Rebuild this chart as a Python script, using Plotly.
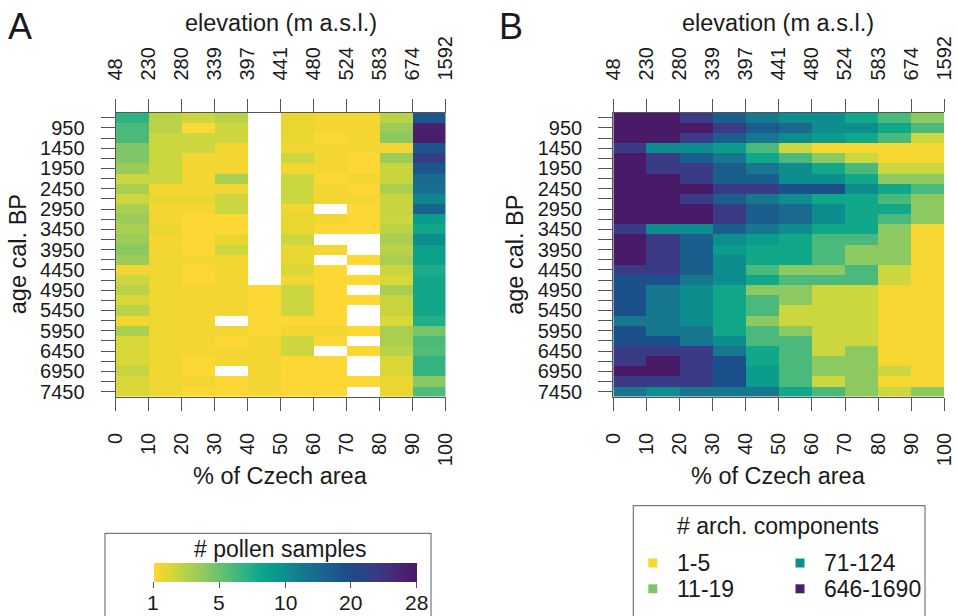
import numpy as np
import plotly.graph_objects as go

# ---------------- data ----------------
AREA_TICKS = [0, 10, 20, 30, 40, 50, 60, 70, 80, 90, 100]
AREA_CENTERS = [5, 15, 25, 35, 45, 55, 65, 75, 85, 95]
ELEVATION_LABELS = ["48", "230", "280", "339", "397", "441", "480", "524", "583", "674", "1592"]
AGE_CENTERS = list(range(700, 7451, 250))          # 28 bins of 250 years
AGE_LABELS = [str(a) if (a - 950) % 500 == 0 else "" for a in AGE_CENTERS]

N = None
# number of pollen samples per (age bin, area decile)
POLLEN = [
    [7.0, 2.8, 2.3, 2.8, N, 1.6, 1.3, 1.3, 2.8, 18],
    [6.0, 2.8, 1.0, 2.3, N, 1.6, 1.3, 1.3, 3.7, 26.5],
    [6.0, 2.3, 2.3, 2.3, N, 1.6, 1.0, 1.3, 4.2, 27],
    [4.5, 2.3, 2.3, 1.3, N, 1.3, 1.3, 1.3, 1.3, 18],
    [4.5, 2.3, 1.3, 1.3, N, 2.3, 1.3, 1.0, 3.7, 23],
    [3.7, 2.3, 1.3, 1.3, N, 1.3, 1.3, 1.0, 2.4, 18],
    [2.3, 2.3, 1.3, 3.2, N, 2.3, 1.0, 1.3, 2.4, 15],
    [3.2, 1.3, 1.3, 1.3, N, 2.3, 1.3, 1.0, 3.2, 14],
    [2.3, 1.6, 1.6, 2.3, N, 2.3, 1.3, 1.3, 2.4, 11],
    [3.2, 1.3, 1.3, 2.3, N, 1.3, N, 1.0, 2.4, 16],
    [3.7, 1.3, 1.0, 1.0, N, 1.6, 1.3, 1.0, 2.3, 9],
    [3.2, 1.6, 1.0, 1.0, N, 1.6, 1.0, 1.0, 2.8, 8],
    [3.7, 1.3, 1.0, 1.6, N, 2.3, N, N, 3.2, 10],
    [4.2, 1.3, 1.0, 2.3, N, 1.6, 1.3, N, 2.8, 8.6],
    [3.7, 1.4, 1.3, 1.3, N, 1.6, N, 1.0, 3.2, 8.6],
    [1.3, 1.4, 1.0, 1.3, N, 2.0, 1.0, N, 2.4, 7.6],
    [2.3, 1.4, 1.0, 1.3, N, 1.3, 1.0, 1.0, 2.0, 8],
    [2.8, 1.4, 1.3, 1.3, 1.0, 2.3, 1.0, N, 3.2, 8],
    [2.0, 1.4, 1.3, 1.3, 1.0, 2.3, 1.0, 1.0, 2.4, 8],
    [2.8, 1.4, 1.3, 1.3, 1.0, 2.3, 1.0, N, 2.4, 8],
    [1.3, 1.4, 1.3, N, 1.0, 1.0, 1.0, N, 2.0, 7.4],
    [3.2, 1.4, 1.3, 1.3, 1.0, 1.3, 1.3, 1.0, 3.2, 4.7],
    [2.0, 1.4, 1.3, 1.0, 1.3, 2.3, 1.0, N, 3.2, 6],
    [2.0, 1.4, 1.3, 1.3, 1.3, 2.3, N, 1.0, 2.8, 5.8],
    [2.0, 1.4, 1.0, 1.3, 1.3, 1.0, 1.0, N, 2.0, 6.8],
    [2.5, 1.4, 1.0, N, 1.3, 1.0, 1.0, N, 2.0, 6.8],
    [2.0, 1.4, 1.3, 1.0, 1.3, 1.0, 1.0, 1.0, 1.6, 4.2],
    [2.0, 1.4, 1.0, 1.0, 1.3, 1.0, 1.0, N, 1.6, 5.8],
]

# number of archaeological components per (age bin, area decile)
ARCH = [
    [1500, 1500, 600, 239, 143, 100, 100, 51, 26, 13],
    [1500, 1500, 1500, 600, 239, 185, 100, 100, 51, 26],
    [1500, 1500, 600, 239, 143, 100, 71, 51, 26, 7],
    [600, 100, 100, 71, 26, 7, 3, 3, 3, 3],
    [1500, 600, 239, 143, 51, 26, 13, 7, 3, 3],
    [1500, 600, 600, 239, 143, 100, 51, 26, 7, 7],
    [1500, 1500, 600, 239, 239, 100, 100, 51, 13, 13],
    [1500, 1500, 1500, 600, 600, 308, 308, 100, 51, 26],
    [1500, 1500, 600, 239, 143, 100, 51, 51, 26, 13],
    [1500, 1500, 1500, 600, 239, 185, 100, 51, 51, 13],
    [1500, 1500, 1500, 600, 239, 185, 100, 51, 26, 13],
    [600, 100, 100, 239, 143, 100, 51, 51, 13, 3],
    [1500, 600, 239, 100, 71, 51, 26, 26, 13, 3],
    [1500, 600, 239, 71, 51, 51, 26, 13, 13, 3],
    [1500, 600, 239, 100, 51, 51, 26, 13, 13, 3],
    [600, 600, 239, 100, 26, 13, 13, 26, 7, 3],
    [308, 308, 143, 100, 51, 26, 26, 26, 7, 3],
    [308, 143, 100, 51, 13, 13, 7, 7, 3, 3],
    [308, 143, 100, 51, 26, 13, 7, 7, 3, 3],
    [308, 143, 100, 51, 26, 7, 7, 7, 3, 3],
    [143, 143, 100, 51, 13, 7, 7, 7, 3, 3],
    [308, 143, 143, 51, 26, 13, 7, 7, 3, 3],
    [308, 308, 143, 100, 26, 26, 7, 7, 3, 3],
    [600, 600, 600, 143, 51, 26, 7, 13, 3, 3],
    [600, 1500, 600, 308, 51, 26, 13, 13, 3, 3],
    [1500, 1500, 600, 308, 71, 26, 13, 13, 7, 3],
    [600, 600, 600, 308, 71, 26, 7, 13, 3, 3],
    [143, 100, 143, 143, 143, 51, 26, 13, 7, 13],
]

POLLEN_BREAKS = [1, 5, 10, 20, 28]
ARCH_BREAKS = [1, 5, 15, 100, 1000, 1690]
ARCH_LEGEND_LABELS = ["1-5", "11-19", "71-124", "646-1690"]
ARCH_LEGEND_VALUES = [3, 15, 95, 1200]

# ---------------- styling ----------------
W, H = 957, 616
FONT = "Liberation Sans, Arial, sans-serif"
TXT = "#1a1a1a"
AX = "#555555"

CS = [[0.00, "#FDD835"], [0.03, "#EDD52F"], [0.06, "#DCD738"], [0.09, "#C6D540"],
      [0.13, "#AED04E"], [0.17, "#9BCB5A"], [0.21, "#84C765"], [0.26, "#62BF74"],
      [0.31, "#45B87C"], [0.36, "#28B085"], [0.41, "#0CA58A"], [0.46, "#0A9A8C"],
      [0.51, "#0E8A8E"], [0.57, "#16778F"], [0.62, "#1A6A90"], [0.67, "#1A5E8E"],
      [0.72, "#1B508C"], [0.78, "#264688"], [0.85, "#3A3A86"], [0.92, "#452877"],
      [1.00, "#4A1866"]]


def cs_color(p):
    for (p0, c0), (p1, c1) in zip(CS[:-1], CS[1:]):
        if p <= p1:
            t = 0 if p1 == p0 else (p - p0) / (p1 - p0)
            a = [int(c0[i:i + 2], 16) for i in (1, 3, 5)]
            b = [int(c1[i:i + 2], 16) for i in (1, 3, 5)]
            return "rgb(%d,%d,%d)" % tuple(round(a[k] + t * (b[k] - a[k])) for k in range(3))
    return CS[-1][1]


def pollen_pos(v):
    return np.interp(v, POLLEN_BREAKS, np.linspace(0, 1, len(POLLEN_BREAKS)))


def arch_pos(v):
    return np.interp(np.log10(v), np.log10(ARCH_BREAKS), [0, 0.02, 0.22, 0.5, 0.95, 1.0])


zA = [[None if v is None else float(pollen_pos(v)) for v in row] for row in POLLEN]
zB = [[None if v is None else float(arch_pos(v)) for v in row] for row in ARCH]


def px(x):
    return x / W


def py(y):
    return 1 - y / H


CB_X0, CB_LEN = 153.3, 263.4

fig = go.Figure()

fig.add_trace(go.Heatmap(
    x=AREA_CENTERS, y=AGE_CENTERS, z=zA, customdata=POLLEN,
    colorscale=CS, zmin=0, zmax=1, xaxis="x", yaxis="y",
    hovertemplate="%{customdata}<extra></extra>",
    colorbar=dict(orientation="h", x=px(CB_X0 + CB_LEN / 2), xanchor="center",
                  y=py(562.7), yanchor="top",
                  len=CB_LEN, lenmode="pixels", thickness=19, thicknessmode="pixels",
                  xpad=0, ypad=0, outlinewidth=0,
                  tickvals=[float(pollen_pos(b)) for b in POLLEN_BREAKS],
                  showticklabels=False,
                  ticks="outside", ticklen=6, tickcolor=AX, tickwidth=1.2),
))
fig.add_trace(go.Heatmap(
    x=AREA_CENTERS, y=AGE_CENTERS, z=zB, customdata=ARCH,
    colorscale=CS, zmin=0, zmax=1, xaxis="x2", yaxis="y2", showscale=False,
    hovertemplate="%{customdata}<extra></extra>",
))
# invisible traces so that the top (elevation) axes are drawn
for xa, ya in (("x3", "y"), ("x4", "y2")):
    fig.add_trace(go.Scatter(x=[AREA_TICKS[0], AREA_TICKS[-1]], y=[AGE_CENTERS[0]] * 2,
                             xaxis=xa, yaxis=ya, mode="markers", marker=dict(opacity=0),
                             hoverinfo="skip", showlegend=False))

common_x = dict(range=[0, 100], showgrid=False, zeroline=False, showline=True,
                linecolor=AX, linewidth=1.2, ticks="outside", ticklen=13, tickcolor=AX,
                tickwidth=1.2, tickangle=-90, tickvals=AREA_TICKS, automargin=False,
                tickfont=dict(size=20, color=TXT, family=FONT))
common_y = dict(range=[AGE_CENTERS[-1] + 125, AGE_CENTERS[0] - 125], showgrid=False,
                zeroline=False, showline=True, linecolor=AX, linewidth=1.2,
                ticks="outside", ticklen=14, tickcolor=AX, tickwidth=1.2, automargin=False,
                tickvals=AGE_CENTERS, ticktext=AGE_LABELS, ticklabelstandoff=12,
                tickfont=dict(size=20, color=TXT, family=FONT))

domA = [px(115.7), px(445.7)]
domB = [px(613.3), px(944.3)]
domY = [py(396.7), py(112.7)]

fig.update_layout(
    width=W, height=H, margin=dict(l=0, r=0, t=0, b=0, pad=0, autoexpand=False),
    paper_bgcolor="white", plot_bgcolor="white", showlegend=False,
    font=dict(family=FONT, color=TXT),
    xaxis=dict(common_x, domain=domA, anchor="y", side="bottom",
               ticktext=[str(t) for t in AREA_TICKS], ticklabelstandoff=14),
    xaxis2=dict(common_x, domain=domB, anchor="y2", side="bottom",
                ticktext=[str(t) for t in AREA_TICKS], ticklabelstandoff=14),
    xaxis3=dict(common_x, overlaying="x", anchor="y", side="top",
                ticktext=ELEVATION_LABELS, ticklabelstandoff=14),
    xaxis4=dict(common_x, overlaying="x2", anchor="y2", side="top",
                ticktext=ELEVATION_LABELS, ticklabelstandoff=14),
    yaxis=dict(common_y, domain=domY, anchor="x"),
    yaxis2=dict(common_y, domain=domY, anchor="x2"),
)

ann = []


def text(x, y, s, size, xanchor="center", angle=0, yanchor="middle"):
    ann.append(dict(x=px(x), y=py(y), xref="paper", yref="paper", text=s, showarrow=False,
                    xanchor=xanchor, yanchor=yanchor, textangle=angle,
                    font=dict(size=size, color=TXT, family=FONT)))


for off, letter, lx in ((0, "A", 19.5), (497.6, "B", 511)):
    text(lx, 26, letter, 36)
    text(280.7 + off, 23, "elevation (m a.s.l.)", 23.5)
    text(280.7 + off, 476, "% of Czech area", 23.5)
    text(17.5 + off, 254.7, "age cal. BP", 23.5, angle=-90)

# legend A
text(280, 549, "# pollen samples", 23)
for b in POLLEN_BREAKS:
    text(CB_X0 + float(pollen_pos(b)) * CB_LEN, 602.5, str(b), 21)
# legend B
text(778, 526, "# arch. components", 23)
shapes = [
    dict(type="rect", xref="paper", yref="paper", x0=px(105), x1=px(431), y0=py(533.3), y1=py(640),
         line=dict(color="#777777", width=1.2), fillcolor="rgba(0,0,0,0)", layer="below"),
    dict(type="rect", xref="paper", yref="paper", x0=px(633.3), x1=px(925), y0=py(505.7), y1=py(640),
         line=dict(color="#777777", width=1.2), fillcolor="rgba(0,0,0,0)", layer="below"),
]
legend_pos = [(652.8, 563), (652.8, 588.8), (800, 563), (800, 588.8)]
for (sx, sy), lab, val in zip(legend_pos, ARCH_LEGEND_LABELS, ARCH_LEGEND_VALUES):
    col = cs_color(float(arch_pos(val)))
    shapes.append(dict(type="rect", xref="paper", yref="paper", x0=px(sx - 4.5), x1=px(sx + 4.5),
                       y0=py(sy + 4.5), y1=py(sy - 4.5), line=dict(width=0), fillcolor=col))
    text(sx + 22, sy, lab, 23, xanchor="left")

fig.update_layout(annotations=ann, shapes=shapes)
fig.write_html("out.html")
